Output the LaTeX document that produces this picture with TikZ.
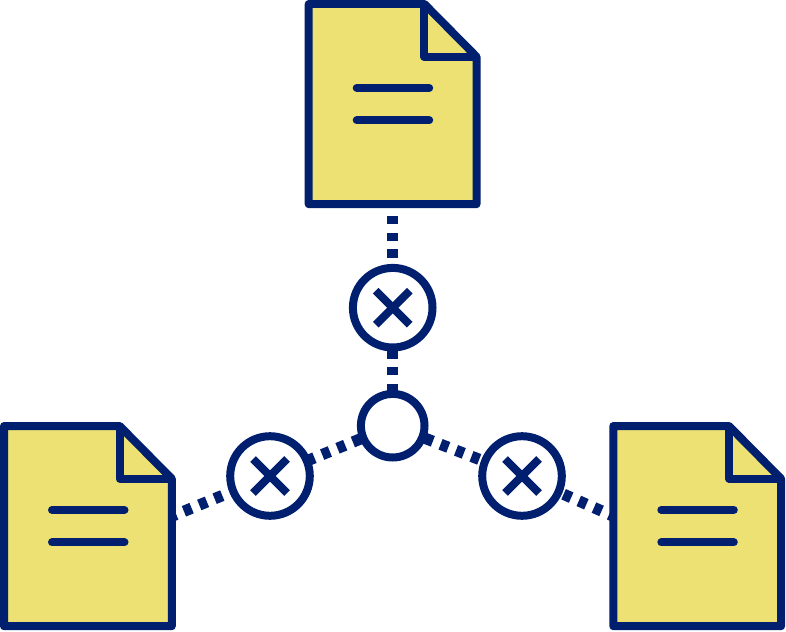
\documentclass[tikz,border=0pt]{standalone}
\usetikzlibrary{backgrounds}
\definecolor{navy}{HTML}{001F6E}
\definecolor{paper}{HTML}{EDE174}
\tikzset{
  ink/.style={draw=navy,line width=8pt,line join=round},
  sheet/.style={ink,fill=paper},
  textline/.style={draw=navy,line width=8pt,line cap=round},
  crossarm/.style={draw=navy,line width=8pt},
  bigring/.style={circle,draw=navy,line width=8pt,fill=white,minimum size=79.6pt,inner sep=0pt},
  hubring/.style={circle,draw=navy,line width=8pt,fill=white,minimum size=63.6pt,inner sep=0pt},
  vdots/.style={draw=navy,line width=11.3pt,dash pattern=on 8.4pt off 8.4pt,dash phase=0pt},
  ddots/.style={draw=navy,line width=11.3pt,dash pattern=on 8.3pt off 8.3pt,dash phase=15.05pt},
  doc/.pic={
    \path[sheet] (0,0) -- (115.7,0) -- (167.8,52.7) -- (167.8,200.2) -- (0,200.2) -- cycle;
    \path[ink] (115.7,0) -- (115.7,52.7) -- (167.8,52.7);
    \path[textline] (48,83.9) -- (120.5,83.9);
    \path[textline] (48,116.4) -- (120.5,116.4);
    \coordinate (-bottom) at (84,200.2);
    \coordinate (-east) at (166,91);
    \coordinate (-west) at (2.1,91);
  },
  crossmark/.pic={
    \path[crossarm] (-17,-17) -- (17,17);
    \path[crossarm] (-17,17) -- (17,-17);
  }
}
\begin{document}
\begin{tikzpicture}[x=1pt,y=-1pt]
\useasboundingbox (0,0) rectangle (786,631);
\pic (dt) at (308.7,4) {doc};
\pic (dl) at (4,426) {doc};
\pic (dr) at (613.3,426) {doc};
\node[hubring] (hub) at (392.7,425.7) {};
\node[bigring] (xt) at (392.7,307.7) {};
\node[bigring] (xl) at (270,476) {};
\node[bigring] (xr) at (522,476) {};
\pic at (xt.center) {crossmark};
\pic at (xl.center) {crossmark};
\pic at (xr.center) {crossmark};
\begin{scope}[on background layer]
\draw[vdots] (hub.center) -- (xt.center) -- (dt-bottom);
\draw[ddots] (hub.center) -- (xl.center) -- (dl-east);
\draw[ddots] (hub.center) -- (xr.center) -- (dr-west);
\end{scope}
\end{tikzpicture}
\end{document}
